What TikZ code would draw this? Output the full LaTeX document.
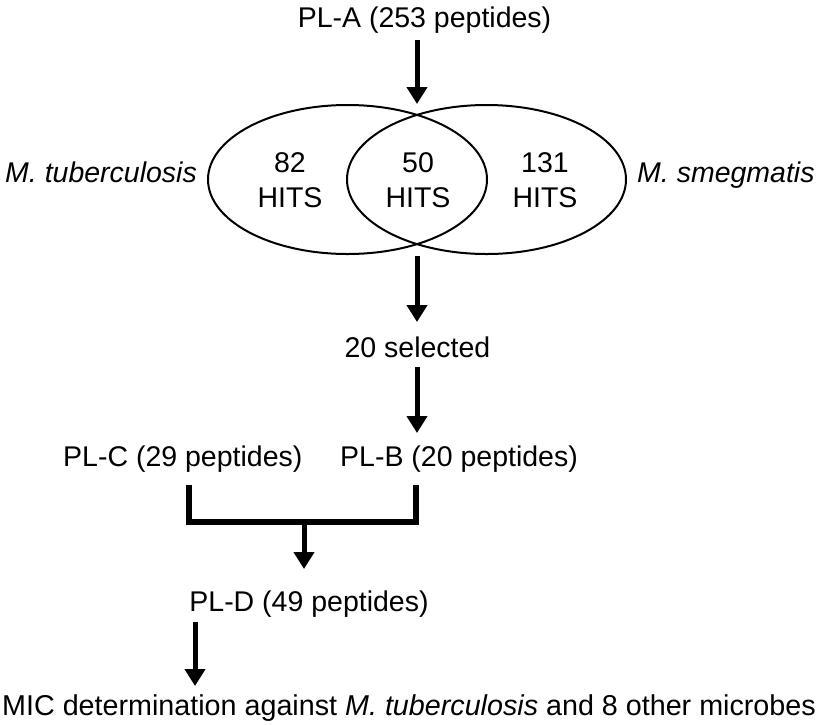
\documentclass[tikz,border=0pt]{standalone}
\usepackage{fontspec}
\setmainfont{Liberation Sans}
\usetikzlibrary{arrows.meta,shapes.geometric}
\begin{document}
\begin{tikzpicture}[x=1pt,y=-1pt,
  lbl/.style={font=\fontsize{28.5}{33}\selectfont, inner sep=0pt, anchor=base},
  flow/.style={line width=5pt, -{Triangle[width=20pt,length=17pt]}},
  vennset/.style={draw, ellipse, line width=2pt, inner sep=0pt,
    minimum width=279pt, minimum height=149pt},
  bracket/.style={line width=6pt, line join=miter}]
\useasboundingbox (0,0) rectangle (816,724);
% texts
\node[lbl] (plA) at (424.5,27) {PL-A (253 peptides)};
\node[vennset] (ellL) at (347.5,179.5) {};
\node[vennset] (ellR) at (486.5,179.5) {};
\node[lbl] (n82) at (290,172) {82};
\node[lbl] (h82) at (290,207) {HITS};
\node[lbl] (n50) at (418,172) {50};
\node[lbl] (h50) at (418,207) {HITS};
\node[lbl] (n131) at (545,172) {131};
\node[lbl] (h131) at (545,207) {HITS};
\node[lbl, anchor=base west] (mtb) at (5,182) {\itshape M. tuberculosis};
\node[lbl, anchor=base west] (msm) at (637,182) {\itshape M. smegmatis};
\node[lbl] (sel) at (417.5,357) {20 selected};
\node[lbl, anchor=base west] (plC) at (63,466) {PL-C (29 peptides)};
\node[lbl, anchor=base west] (plB) at (340,466) {PL-B (20 peptides)};
\node[lbl] (plD) at (309,611) {PL-D (49 peptides)};
\node[lbl, anchor=base west, font=\fontsize{28.7}{33}\selectfont] (mic) at (2,715)
  {MIC determination against \textit{M. tuberculosis} and 8 other microbes};
% connector points
\coordinate (a1s) at (417,40);   \coordinate (a1e) at (417,104);
\coordinate (a2s) at (417,256);  \coordinate (a2e) at (417,322);
\coordinate (a3s) at (417,367);  \coordinate (a3e) at (417,433);
\coordinate (bl) at (189,485);   \coordinate (br) at (416,485);
\coordinate (bm) at (304,522);   \coordinate (bme) at (304,569);
\coordinate (a5s) at (195,622);  \coordinate (a5e) at (195,686);
% connectors
\draw[flow] (a1s) -- (a1e);
\draw[flow] (a2s) -- (a2e);
\draw[flow] (a3s) -- (a3e);
\draw[bracket] (bl) -- (bl |- bm) -- (br |- bm) -- (br);
\draw[flow] (bm) -- (bme);
\draw[flow] (a5s) -- (a5e);
\end{tikzpicture}
\end{document}
